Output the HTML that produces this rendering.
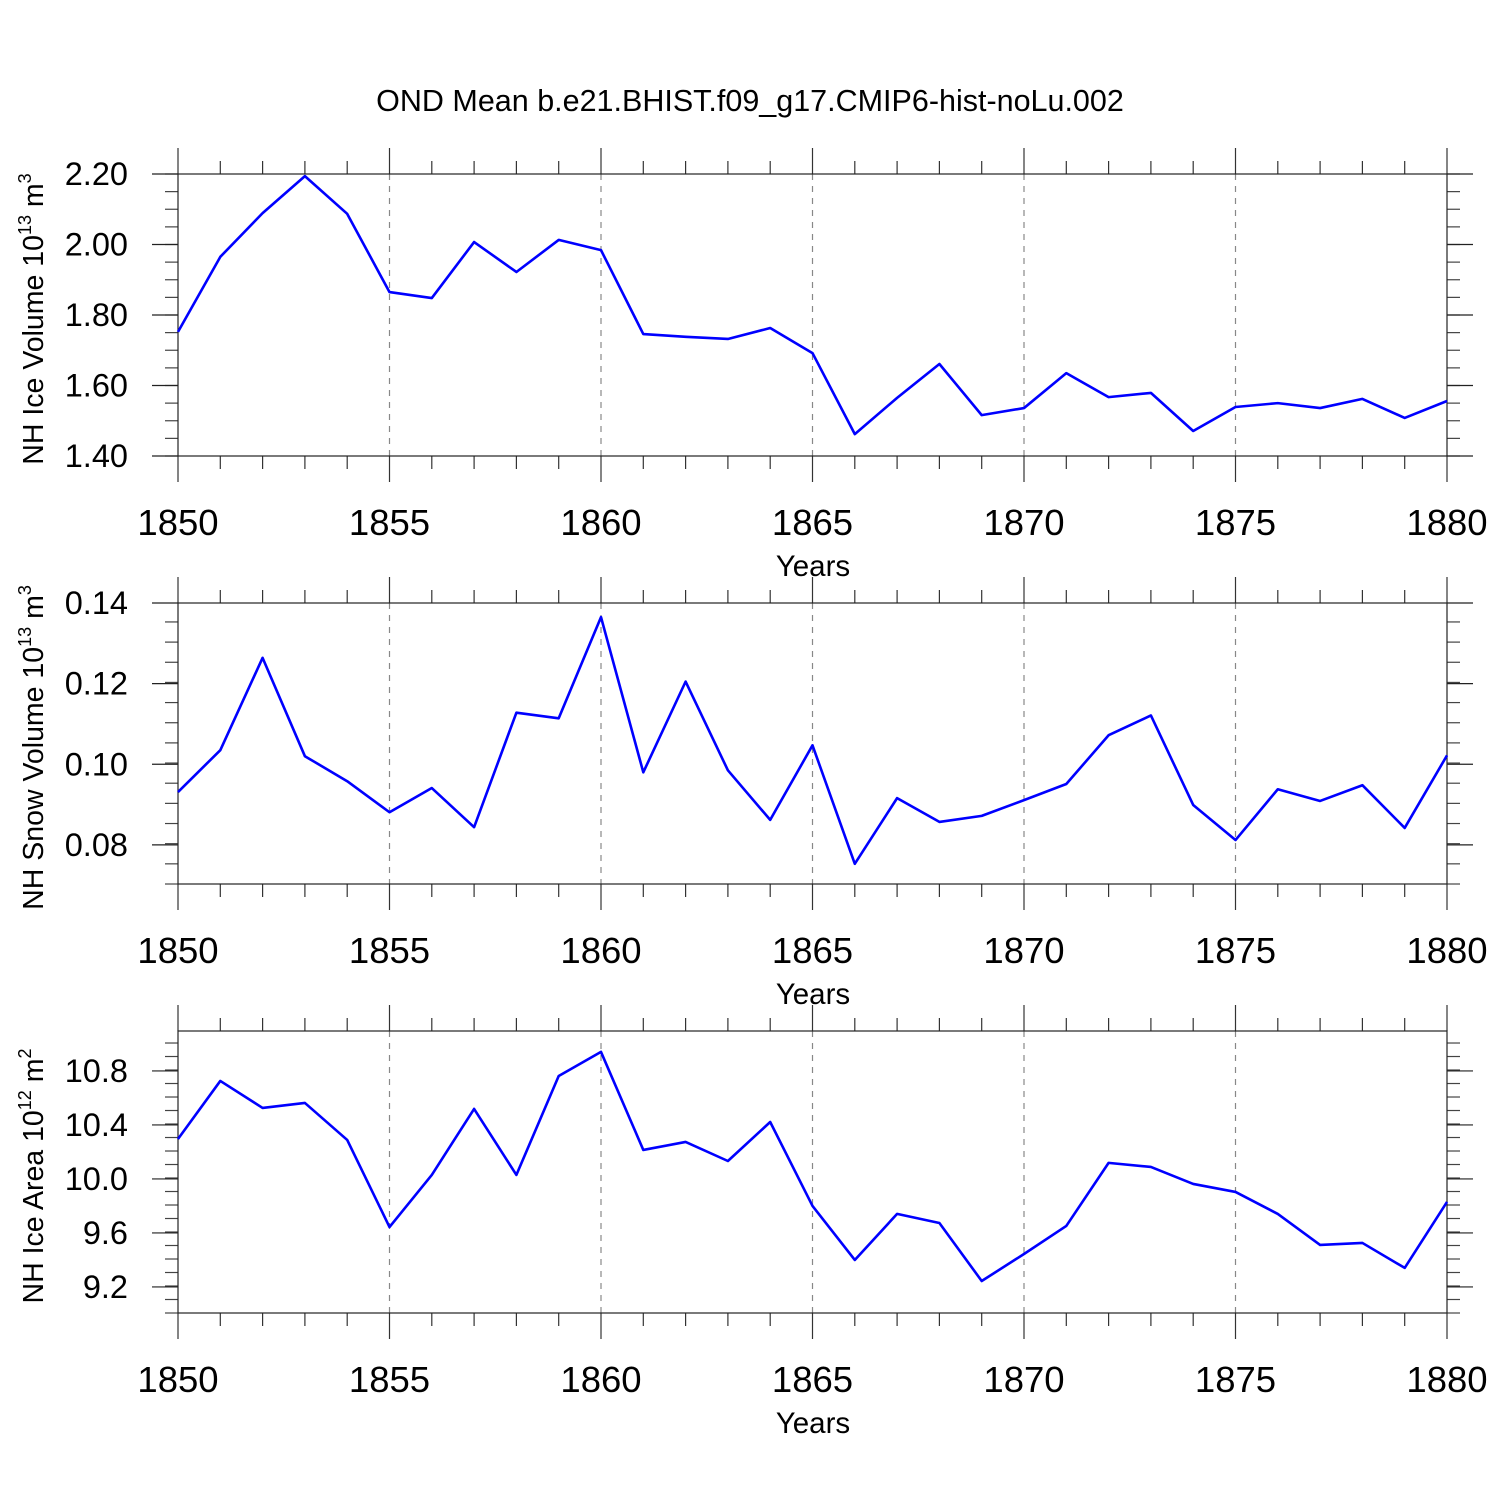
<!DOCTYPE html>
<html><head><meta charset="utf-8"><style>
body{margin:0;background:#fff}
svg{display:block;font-family:"Liberation Sans",Arial,sans-serif}
</style></head><body>
<svg id="chart" width="1500" height="1500" viewBox="0 0 1500 1500" xmlns="http://www.w3.org/2000/svg">
<rect width="1500" height="1500" fill="#fff"/>
<text x="750" y="111" font-size="30.5" text-anchor="middle">OND Mean b.e21.BHIST.f09_g17.CMIP6-hist-noLu.002</text>
</svg>
<script>
const years = [1850,1851,1852,1853,1854,1855,1856,1857,1858,1859,1860,1861,1862,1863,1864,1865,1866,1867,1868,1869,1870,1871,1872,1873,1874,1875,1876,1877,1878,1879,1880];
const iceVolume = [1.752,1.965,2.089,2.194,2.087,1.865,1.848,2.007,1.922,2.013,1.984,1.746,1.738,1.732,1.763,1.692,1.462,1.565,1.661,1.516,1.536,1.635,1.567,1.579,1.471,1.539,1.550,1.536,1.562,1.508,1.556];
const snowVolume = [0.0931,0.1035,0.1264,0.1020,0.0958,0.0881,0.0941,0.0844,0.1128,0.1114,0.1365,0.0980,0.1205,0.0985,0.0862,0.1047,0.0753,0.0916,0.0857,0.0872,0.0911,0.0951,0.1072,0.1121,0.0899,0.0812,0.0938,0.0909,0.0948,0.0842,0.1022];
const iceArea = [10.296,10.726,10.526,10.563,10.289,9.644,10.030,10.519,10.030,10.763,10.941,10.215,10.274,10.133,10.422,9.800,9.400,9.741,9.674,9.244,9.444,9.652,10.119,10.089,9.963,9.904,9.741,9.511,9.526,9.341,9.830];
const xTicks = [1850,1855,1860,1865,1870,1875,1880];
const iceVolTicks = [1.40,1.60,1.80,2.00,2.20];
const snowTicks = [0.08,0.10,0.12,0.14];
const areaTicks = [9.2,9.6,10.0,10.4,10.8];

const NS="http://www.w3.org/2000/svg";
const svg=document.getElementById('chart');
const X0=178,X1=1447;
function xs(v){return X0+(v-1850)/(1880-1850)*(X1-X0);}
function mk(tag,attrs,parent){const e=document.createElementNS(NS,tag);for(const k in attrs)e.setAttribute(k,attrs[k]);(parent||svg).appendChild(e);return e;}

function panel(cfg){
  const {top,bot,ymin,ymax,ticks,minor,dec,vals,name,title,exp,unitExp}=cfg;
  const g=mk('g',{});
  
  
  const ys=v=>bot-(v-ymin)/(ymax-ymin)*(bot-top);
  xTicks.slice(1,-1).forEach(t=>{
    const l=mk('line',{x1:xs(t),x2:xs(t),y1:top,y2:bot,stroke:'#888','stroke-width':1.2,'stroke-dasharray':'6,6'},g);
    
    
  });
  for(let y=1850;y<=1880;y++){
    const major=xTicks.includes(y);const L=major?26:13;
    mk('line',{x1:xs(y),x2:xs(y),y1:top-L,y2:top,stroke:'#333','stroke-width':1.2},g);
    mk('line',{x1:xs(y),x2:xs(y),y1:bot,y2:bot+L,stroke:'#333','stroke-width':1.2},g);
  }
  for(let v=ymin;v<=ymax+1e-9;v+=minor){
    const y=ys(v);if(y<top-0.5||y>bot+0.5)continue;
    mk('line',{x1:X0-13,x2:X0,y1:y,y2:y,stroke:'#444','stroke-width':1.2},g);
    mk('line',{x1:X1,x2:X1+13,y1:y,y2:y,stroke:'#444','stroke-width':1.2},g);
  }
  ticks.forEach(t=>{
    const y=ys(t);
    mk('line',{x1:X0-26,x2:X0,y1:y,y2:y,stroke:'#222','stroke-width':1.2},g);
    mk('line',{x1:X1,x2:X1+26,y1:y,y2:y,stroke:'#222','stroke-width':1.2},g);
    const tx=mk('text',{x:128,y:y+11,'font-size':32.5,'text-anchor':'end'},g);
    
    
    tx.textContent=t.toFixed(dec);
  });
  const fr=mk('rect',{x:X0,y:top,width:X1-X0,height:bot-top,fill:'none',stroke:'#222','stroke-width':1.2},g);
  
  
  xTicks.forEach(t=>{
    const tx=mk('text',{x:xs(t),y:bot+79,'font-size':36.5,'text-anchor':'middle'},g);
    
    
    tx.textContent=t;
  });
  const xt=mk('text',{x:813,y:bot+120,'font-size':29.5,'text-anchor':'middle'},g);
  
  
  xt.textContent='Years';
  const cy=(top+bot)/2+4;
  const yt=mk('text',{x:0,y:0,'font-size':28.5,'text-anchor':'middle',transform:`translate(43,${cy}) rotate(-90)`},g);
  
  
  yt.appendChild(document.createTextNode(title+' 10'));
  const s1=mk('tspan',{dy:-12,'font-size':18},yt);s1.textContent=exp;
  const s2=mk('tspan',{dy:12},yt);s2.textContent=' m';
  const s3=mk('tspan',{dy:-12,'font-size':18},yt);s3.textContent=unitExp;
  const pts=vals.map((v,i)=>xs(years[i])+','+ys(v)).join(' ');
  const pl=mk('polyline',{points:pts,fill:'none',stroke:'#0000ff','stroke-width':2.6,'stroke-linejoin':'round'},g);
  
  
}
panel({top:174,bot:456,ymin:1.40,ymax:2.20,ticks:iceVolTicks,minor:0.05,dec:2,vals:iceVolume,name:'ice-volume',title:'NH Ice Volume',exp:'13',unitExp:'3'});
panel({top:603,bot:884,ymin:0.0703,ymax:0.14,ticks:snowTicks,minor:0.005,dec:2,vals:snowVolume,name:'snow-volume',title:'NH Snow Volume',exp:'13',unitExp:'3'});
panel({top:1031,bot:1313,ymin:9.007,ymax:11.096,ticks:areaTicks,minor:0.1,dec:1,vals:iceArea,name:'ice-area',title:'NH Ice Area',exp:'12',unitExp:'2'});
</script>
</body></html>
